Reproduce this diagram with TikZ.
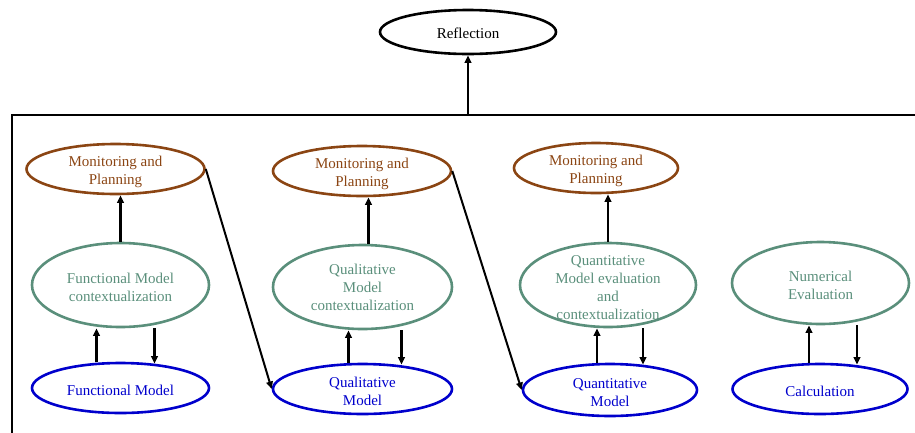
\documentclass[tikz,border=0pt]{standalone}
\usepackage{fontspec}
\setmainfont{Liberation Serif}
\usetikzlibrary{shapes.geometric,arrows.meta,calc}
\definecolor{planbrown}{RGB}{139,69,19}
\definecolor{ctxgreen}{RGB}{90,143,123}
\definecolor{modelblue}{RGB}{0,0,204}
\tikzset{
  txt/.style={font=\fontsize{15}{18}\selectfont, align=center, yshift=-2.5pt},
  oval/.style={ellipse, draw, line width=2.6pt, inner sep=0pt},
  plan/.style={oval, draw=planbrown, minimum height=50pt},
  ctx/.style={oval, draw=ctxgreen, minimum height=84pt},
  model/.style={oval, draw=modelblue, minimum height=50pt},
  plantxt/.style={txt, text=planbrown},
  ctxtxt/.style={txt, text=ctxgreen},
  modeltxt/.style={txt, text=modelblue},
  arr/.style={line width=2.3pt, -{Triangle[length=7.5pt,width=6.5pt]}},
  frame/.style={line width=2.6pt}
}
\begin{document}
\begin{tikzpicture}[x=1pt, y=-1pt]
\useasboundingbox (0,0) rectangle (915,432);

% top level
\node[oval, draw=black, minimum width=176pt, minimum height=44pt,
      label={[txt, yshift=1.5pt]center:Reflection}] (refl) at (468,32) {};
\coordinate (boxtop) at (468,115);
\draw[frame] (917,115) -- (12,115) -- (12,434);
\draw[arr] (boxtop) -- (refl.south);

% column 1: functional model
\node[plan, minimum width=178pt, label={[plantxt]center:{Monitoring and\\Planning}}] (mp1) at (115.5,169) {};
\node[ctx, minimum width=177pt, label={[ctxtxt]center:{Functional Model\\contextualization}}] (fmc) at (120.5,285) {};
\node[model, minimum width=177pt, label={[modeltxt]center:{Functional Model}}] (fm) at (120.5,388) {};

% column 2: qualitative model
\node[plan, minimum width=178pt, label={[plantxt]center:{Monitoring and\\Planning}}] (mp2) at (362,171) {};
\node[ctx, minimum width=179pt, label={[ctxtxt, yshift=2.5pt]center:{Qualitative\\Model\\contextualization}}] (qc) at (362.5,287) {};
\node[model, minimum width=179pt, label={[modeltxt]center:{Qualitative\\Model}}] (qm) at (362.5,389) {};

% column 3: quantitative model
\node[plan, minimum width=164pt, label={[plantxt]center:{Monitoring and\\Planning}}] (mp3) at (596,168) {};
\node[ctx, minimum width=176pt, label={[ctxtxt]center:{Quantitative\\Model evaluation\\and\\contextualization}}] (qe) at (608,285) {};
\node[model, minimum width=174pt, minimum height=52pt, label={[modeltxt]center:{Quantitative\\Model}}] (qn) at (610,390) {};

% column 4: numerical evaluation
\node[ctx, minimum width=177pt, minimum height=82pt, label={[ctxtxt]center:{Numerical\\Evaluation}}] (ne) at (820.5,283) {};
\node[model, minimum width=175pt, label={[modeltxt]center:{Calculation}}] (calc) at (820,389) {};

% context -> monitoring
\draw[arr] (fmc.north) -- (fmc.north |- mp1.south);
\draw[arr] ($(qc.north)+(6,0)$) -- ($(qc.north |- mp2.south)+(6,0)$);
\draw[arr] (qe.north) -- (qe.north |- mp3.south);

% model <-> context (vertical pairs)
\draw[arr] ($(fm.north)+(-24,0)$) -- ($(fmc.south)+(-24,0)$);
\draw[arr] ($(fmc.south)+(34,0)$) -- ($(fm.north)+(34,2)$);
\draw[arr] ($(qm.north)+(-14,0)$) -- ($(qc.south)+(-14,0)$);
\draw[arr] ($(qc.south)+(39,0)$) -- ($(qm.north)+(39,2)$);
\draw[arr] ($(qn.north)+(-13,0)$) -- ($(qe.south)+(-11,0)$);
\draw[arr] ($(qe.south)+(35,0)$) -- ($(qn.north)+(33,2)$);
\draw[arr] ($(calc.north)+(-11,0)$) -- ($(ne.south)+(-11.5,0)$);
\draw[arr] ($(ne.south)+(36.5,0)$) -- ($(calc.north)+(37,2)$);

% monitoring -> next model
\draw[arr, line width=2pt] (mp1.east) -- (qm.west);
\draw[arr, line width=2pt] (mp2.east) -- (qn.west);
\end{tikzpicture}
\end{document}
